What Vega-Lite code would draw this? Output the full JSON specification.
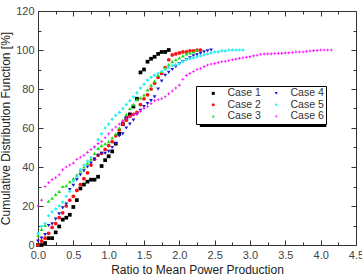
{
  "$schema": "https://vega.github.io/schema/vega-lite/v6.json",
  "autosize": {"type": "none"},
  "padding": {"left": 38, "top": 11, "right": 6, "bottom": 32},
  "width": 318,
  "height": 234,
  "background": "white",
  "config": {
    "view": {"stroke": null},
    "font": "Liberation Sans",
    "axis": {
      "domainColor": "#333333",
      "tickColor": "#333333",
      "grid": false,
      "labelFont": "Liberation Sans",
      "labelFontSize": 11,
      "labelColor": "#444444",
      "titleFont": "Liberation Sans",
      "titleFontSize": 12,
      "titleFontWeight": "normal",
      "titleColor": "#222222",
      "labelOverlap": false,
      "labelFlush": false
    }
  },
  "datasets": {
    "legendShadow": [{"x0": 2.29, "x1": 4.08, "y0": 60.5, "y1": 79.0}],
    "cdf": [
      {"s": "Case 1", "x": 0.00, "y": 0},
      {"s": "Case 1", "x": 0.05, "y": 0},
      {"s": "Case 1", "x": 0.10, "y": 1},
      {"s": "Case 1", "x": 0.15, "y": 3.5},
      {"s": "Case 1", "x": 0.20, "y": 3.5},
      {"s": "Case 1", "x": 0.25, "y": 6.5},
      {"s": "Case 1", "x": 0.30, "y": 9.5},
      {"s": "Case 1", "x": 0.35, "y": 13},
      {"s": "Case 1", "x": 0.40, "y": 14},
      {"s": "Case 1", "x": 0.45, "y": 15.5},
      {"s": "Case 1", "x": 0.50, "y": 19.5},
      {"s": "Case 1", "x": 0.55, "y": 23},
      {"s": "Case 1", "x": 0.60, "y": 29},
      {"s": "Case 1", "x": 0.65, "y": 31},
      {"s": "Case 1", "x": 0.70, "y": 32.5},
      {"s": "Case 1", "x": 0.75, "y": 33.5},
      {"s": "Case 1", "x": 0.80, "y": 33.5},
      {"s": "Case 1", "x": 0.85, "y": 35},
      {"s": "Case 1", "x": 0.90, "y": 40.5},
      {"s": "Case 1", "x": 0.95, "y": 43.5},
      {"s": "Case 1", "x": 1.00, "y": 45.5},
      {"s": "Case 1", "x": 1.05, "y": 48},
      {"s": "Case 1", "x": 1.10, "y": 52},
      {"s": "Case 1", "x": 1.15, "y": 57},
      {"s": "Case 1", "x": 1.20, "y": 62},
      {"s": "Case 1", "x": 1.25, "y": 65},
      {"s": "Case 1", "x": 1.30, "y": 67},
      {"s": "Case 1", "x": 1.35, "y": 71},
      {"s": "Case 1", "x": 1.40, "y": 75},
      {"s": "Case 1", "x": 1.45, "y": 88.5},
      {"s": "Case 1", "x": 1.50, "y": 90},
      {"s": "Case 1", "x": 1.55, "y": 94},
      {"s": "Case 1", "x": 1.60, "y": 95.5},
      {"s": "Case 1", "x": 1.65, "y": 96.5},
      {"s": "Case 1", "x": 1.70, "y": 98},
      {"s": "Case 1", "x": 1.75, "y": 99},
      {"s": "Case 1", "x": 1.80, "y": 99},
      {"s": "Case 1", "x": 1.85, "y": 100},

      {"s": "Case 2", "x": 0.00, "y": 0},
      {"s": "Case 2", "x": 0.05, "y": 2},
      {"s": "Case 2", "x": 0.10, "y": 3.5},
      {"s": "Case 2", "x": 0.15, "y": 6},
      {"s": "Case 2", "x": 0.20, "y": 9},
      {"s": "Case 2", "x": 0.25, "y": 11},
      {"s": "Case 2", "x": 0.30, "y": 14},
      {"s": "Case 2", "x": 0.35, "y": 16.5},
      {"s": "Case 2", "x": 0.40, "y": 20},
      {"s": "Case 2", "x": 0.45, "y": 23},
      {"s": "Case 2", "x": 0.50, "y": 25},
      {"s": "Case 2", "x": 0.55, "y": 28},
      {"s": "Case 2", "x": 0.60, "y": 31},
      {"s": "Case 2", "x": 0.65, "y": 34},
      {"s": "Case 2", "x": 0.70, "y": 37},
      {"s": "Case 2", "x": 0.75, "y": 41},
      {"s": "Case 2", "x": 0.80, "y": 44},
      {"s": "Case 2", "x": 0.85, "y": 46},
      {"s": "Case 2", "x": 0.90, "y": 47},
      {"s": "Case 2", "x": 0.95, "y": 49},
      {"s": "Case 2", "x": 1.00, "y": 51},
      {"s": "Case 2", "x": 1.05, "y": 53},
      {"s": "Case 2", "x": 1.10, "y": 56},
      {"s": "Case 2", "x": 1.15, "y": 59},
      {"s": "Case 2", "x": 1.20, "y": 62},
      {"s": "Case 2", "x": 1.25, "y": 64},
      {"s": "Case 2", "x": 1.30, "y": 66},
      {"s": "Case 2", "x": 1.35, "y": 67},
      {"s": "Case 2", "x": 1.40, "y": 68},
      {"s": "Case 2", "x": 1.45, "y": 72},
      {"s": "Case 2", "x": 1.50, "y": 75},
      {"s": "Case 2", "x": 1.55, "y": 77},
      {"s": "Case 2", "x": 1.60, "y": 80},
      {"s": "Case 2", "x": 1.65, "y": 83},
      {"s": "Case 2", "x": 1.70, "y": 86},
      {"s": "Case 2", "x": 1.75, "y": 88},
      {"s": "Case 2", "x": 1.80, "y": 91},
      {"s": "Case 2", "x": 1.85, "y": 95},
      {"s": "Case 2", "x": 1.90, "y": 97.5},
      {"s": "Case 2", "x": 1.95, "y": 98},
      {"s": "Case 2", "x": 2.00, "y": 98.5},
      {"s": "Case 2", "x": 2.05, "y": 99},
      {"s": "Case 2", "x": 2.10, "y": 99},
      {"s": "Case 2", "x": 2.15, "y": 99.5},
      {"s": "Case 2", "x": 2.20, "y": 99.5},
      {"s": "Case 2", "x": 2.25, "y": 100},
      {"s": "Case 2", "x": 2.30, "y": 100},

      {"s": "Case 3", "x": 0.00, "y": 5},
      {"s": "Case 3", "x": 0.05, "y": 8},
      {"s": "Case 3", "x": 0.10, "y": 10},
      {"s": "Case 3", "x": 0.15, "y": 22.5},
      {"s": "Case 3", "x": 0.20, "y": 24},
      {"s": "Case 3", "x": 0.25, "y": 26},
      {"s": "Case 3", "x": 0.30, "y": 27.5},
      {"s": "Case 3", "x": 0.35, "y": 30},
      {"s": "Case 3", "x": 0.40, "y": 30.5},
      {"s": "Case 3", "x": 0.45, "y": 32.5},
      {"s": "Case 3", "x": 0.50, "y": 34},
      {"s": "Case 3", "x": 0.55, "y": 36},
      {"s": "Case 3", "x": 0.60, "y": 38},
      {"s": "Case 3", "x": 0.65, "y": 40},
      {"s": "Case 3", "x": 0.70, "y": 42},
      {"s": "Case 3", "x": 0.75, "y": 44},
      {"s": "Case 3", "x": 0.80, "y": 47},
      {"s": "Case 3", "x": 0.85, "y": 49.5},
      {"s": "Case 3", "x": 0.90, "y": 51},
      {"s": "Case 3", "x": 0.95, "y": 52},
      {"s": "Case 3", "x": 1.00, "y": 53},
      {"s": "Case 3", "x": 1.05, "y": 55},
      {"s": "Case 3", "x": 1.10, "y": 57},
      {"s": "Case 3", "x": 1.15, "y": 60},
      {"s": "Case 3", "x": 1.20, "y": 64},
      {"s": "Case 3", "x": 1.25, "y": 67},
      {"s": "Case 3", "x": 1.30, "y": 70},
      {"s": "Case 3", "x": 1.35, "y": 72},
      {"s": "Case 3", "x": 1.40, "y": 74.5},
      {"s": "Case 3", "x": 1.45, "y": 75.5},
      {"s": "Case 3", "x": 1.50, "y": 77},
      {"s": "Case 3", "x": 1.55, "y": 79.5},
      {"s": "Case 3", "x": 1.60, "y": 82},
      {"s": "Case 3", "x": 1.65, "y": 84},
      {"s": "Case 3", "x": 1.70, "y": 87},
      {"s": "Case 3", "x": 1.75, "y": 89},
      {"s": "Case 3", "x": 1.80, "y": 91},
      {"s": "Case 3", "x": 1.85, "y": 92.5},
      {"s": "Case 3", "x": 1.90, "y": 94},
      {"s": "Case 3", "x": 1.95, "y": 95},
      {"s": "Case 3", "x": 2.00, "y": 96},
      {"s": "Case 3", "x": 2.05, "y": 97},
      {"s": "Case 3", "x": 2.10, "y": 98},
      {"s": "Case 3", "x": 2.15, "y": 98.5},
      {"s": "Case 3", "x": 2.20, "y": 99},
      {"s": "Case 3", "x": 2.25, "y": 100},

      {"s": "Case 4", "x": 0.00, "y": 2},
      {"s": "Case 4", "x": 0.05, "y": 3.5},
      {"s": "Case 4", "x": 0.10, "y": 5.3},
      {"s": "Case 4", "x": 0.15, "y": 10},
      {"s": "Case 4", "x": 0.20, "y": 10.8},
      {"s": "Case 4", "x": 0.25, "y": 13.3},
      {"s": "Case 4", "x": 0.30, "y": 16},
      {"s": "Case 4", "x": 0.35, "y": 19},
      {"s": "Case 4", "x": 0.40, "y": 21},
      {"s": "Case 4", "x": 0.45, "y": 28.4},
      {"s": "Case 4", "x": 0.50, "y": 30.6},
      {"s": "Case 4", "x": 0.55, "y": 33.5},
      {"s": "Case 4", "x": 0.60, "y": 36},
      {"s": "Case 4", "x": 0.65, "y": 38},
      {"s": "Case 4", "x": 0.70, "y": 40},
      {"s": "Case 4", "x": 0.75, "y": 42},
      {"s": "Case 4", "x": 0.80, "y": 44},
      {"s": "Case 4", "x": 0.85, "y": 46},
      {"s": "Case 4", "x": 0.90, "y": 47},
      {"s": "Case 4", "x": 0.95, "y": 47},
      {"s": "Case 4", "x": 1.00, "y": 48},
      {"s": "Case 4", "x": 1.05, "y": 50},
      {"s": "Case 4", "x": 1.10, "y": 52},
      {"s": "Case 4", "x": 1.15, "y": 56},
      {"s": "Case 4", "x": 1.20, "y": 57},
      {"s": "Case 4", "x": 1.25, "y": 60},
      {"s": "Case 4", "x": 1.30, "y": 62},
      {"s": "Case 4", "x": 1.35, "y": 64},
      {"s": "Case 4", "x": 1.40, "y": 67},
      {"s": "Case 4", "x": 1.45, "y": 69},
      {"s": "Case 4", "x": 1.50, "y": 71},
      {"s": "Case 4", "x": 1.55, "y": 72.5},
      {"s": "Case 4", "x": 1.60, "y": 74},
      {"s": "Case 4", "x": 1.65, "y": 76},
      {"s": "Case 4", "x": 1.70, "y": 80},
      {"s": "Case 4", "x": 1.75, "y": 84},
      {"s": "Case 4", "x": 1.80, "y": 87},
      {"s": "Case 4", "x": 1.85, "y": 88.5},
      {"s": "Case 4", "x": 1.90, "y": 90},
      {"s": "Case 4", "x": 1.95, "y": 91.5},
      {"s": "Case 4", "x": 2.00, "y": 93},
      {"s": "Case 4", "x": 2.05, "y": 94},
      {"s": "Case 4", "x": 2.10, "y": 95},
      {"s": "Case 4", "x": 2.15, "y": 96},
      {"s": "Case 4", "x": 2.20, "y": 97},
      {"s": "Case 4", "x": 2.25, "y": 97.5},
      {"s": "Case 4", "x": 2.30, "y": 98.3},
      {"s": "Case 4", "x": 2.35, "y": 99},
      {"s": "Case 4", "x": 2.40, "y": 99.5},
      {"s": "Case 4", "x": 2.45, "y": 100},

      {"s": "Case 5", "x": 0.00, "y": 6},
      {"s": "Case 5", "x": 0.05, "y": 9.6},
      {"s": "Case 5", "x": 0.10, "y": 11},
      {"s": "Case 5", "x": 0.15, "y": 15},
      {"s": "Case 5", "x": 0.20, "y": 17},
      {"s": "Case 5", "x": 0.25, "y": 18.5},
      {"s": "Case 5", "x": 0.30, "y": 20},
      {"s": "Case 5", "x": 0.35, "y": 22},
      {"s": "Case 5", "x": 0.40, "y": 25},
      {"s": "Case 5", "x": 0.45, "y": 27.5},
      {"s": "Case 5", "x": 0.50, "y": 32.7},
      {"s": "Case 5", "x": 0.55, "y": 35},
      {"s": "Case 5", "x": 0.60, "y": 38.6},
      {"s": "Case 5", "x": 0.65, "y": 41},
      {"s": "Case 5", "x": 0.70, "y": 43},
      {"s": "Case 5", "x": 0.75, "y": 45},
      {"s": "Case 5", "x": 0.80, "y": 50},
      {"s": "Case 5", "x": 0.85, "y": 54},
      {"s": "Case 5", "x": 0.90, "y": 57},
      {"s": "Case 5", "x": 0.95, "y": 60},
      {"s": "Case 5", "x": 1.00, "y": 62},
      {"s": "Case 5", "x": 1.05, "y": 64.5},
      {"s": "Case 5", "x": 1.10, "y": 66.5},
      {"s": "Case 5", "x": 1.15, "y": 68},
      {"s": "Case 5", "x": 1.20, "y": 70},
      {"s": "Case 5", "x": 1.25, "y": 72},
      {"s": "Case 5", "x": 1.30, "y": 74},
      {"s": "Case 5", "x": 1.35, "y": 76},
      {"s": "Case 5", "x": 1.40, "y": 78},
      {"s": "Case 5", "x": 1.45, "y": 80.5},
      {"s": "Case 5", "x": 1.50, "y": 82.5},
      {"s": "Case 5", "x": 1.55, "y": 84.5},
      {"s": "Case 5", "x": 1.60, "y": 86},
      {"s": "Case 5", "x": 1.65, "y": 87},
      {"s": "Case 5", "x": 1.70, "y": 88},
      {"s": "Case 5", "x": 1.75, "y": 89},
      {"s": "Case 5", "x": 1.80, "y": 90},
      {"s": "Case 5", "x": 1.85, "y": 91},
      {"s": "Case 5", "x": 1.90, "y": 92},
      {"s": "Case 5", "x": 1.95, "y": 92.5},
      {"s": "Case 5", "x": 2.00, "y": 93},
      {"s": "Case 5", "x": 2.05, "y": 94},
      {"s": "Case 5", "x": 2.10, "y": 95},
      {"s": "Case 5", "x": 2.15, "y": 95.5},
      {"s": "Case 5", "x": 2.20, "y": 96},
      {"s": "Case 5", "x": 2.25, "y": 96.5},
      {"s": "Case 5", "x": 2.30, "y": 97},
      {"s": "Case 5", "x": 2.35, "y": 97.5},
      {"s": "Case 5", "x": 2.40, "y": 98},
      {"s": "Case 5", "x": 2.45, "y": 98.5},
      {"s": "Case 5", "x": 2.50, "y": 99},
      {"s": "Case 5", "x": 2.55, "y": 99},
      {"s": "Case 5", "x": 2.60, "y": 99.5},
      {"s": "Case 5", "x": 2.65, "y": 99.5},
      {"s": "Case 5", "x": 2.70, "y": 100},
      {"s": "Case 5", "x": 2.75, "y": 100},
      {"s": "Case 5", "x": 2.80, "y": 100},
      {"s": "Case 5", "x": 2.85, "y": 100},
      {"s": "Case 5", "x": 2.90, "y": 100},

      {"s": "Case 6", "x": 0.00, "y": 20},
      {"s": "Case 6", "x": 0.05, "y": 23},
      {"s": "Case 6", "x": 0.10, "y": 30},
      {"s": "Case 6", "x": 0.15, "y": 32},
      {"s": "Case 6", "x": 0.20, "y": 33.5},
      {"s": "Case 6", "x": 0.25, "y": 34.5},
      {"s": "Case 6", "x": 0.30, "y": 36},
      {"s": "Case 6", "x": 0.35, "y": 38.5},
      {"s": "Case 6", "x": 0.40, "y": 40},
      {"s": "Case 6", "x": 0.45, "y": 41},
      {"s": "Case 6", "x": 0.50, "y": 42},
      {"s": "Case 6", "x": 0.55, "y": 44},
      {"s": "Case 6", "x": 0.60, "y": 45},
      {"s": "Case 6", "x": 0.65, "y": 46},
      {"s": "Case 6", "x": 0.70, "y": 47.5},
      {"s": "Case 6", "x": 0.75, "y": 49},
      {"s": "Case 6", "x": 0.80, "y": 50.5},
      {"s": "Case 6", "x": 0.85, "y": 52},
      {"s": "Case 6", "x": 0.90, "y": 53},
      {"s": "Case 6", "x": 0.95, "y": 55},
      {"s": "Case 6", "x": 1.00, "y": 57},
      {"s": "Case 6", "x": 1.05, "y": 59},
      {"s": "Case 6", "x": 1.10, "y": 60.5},
      {"s": "Case 6", "x": 1.15, "y": 62},
      {"s": "Case 6", "x": 1.20, "y": 63.5},
      {"s": "Case 6", "x": 1.25, "y": 65},
      {"s": "Case 6", "x": 1.30, "y": 66},
      {"s": "Case 6", "x": 1.35, "y": 67},
      {"s": "Case 6", "x": 1.40, "y": 67.5},
      {"s": "Case 6", "x": 1.45, "y": 68.5},
      {"s": "Case 6", "x": 1.50, "y": 70},
      {"s": "Case 6", "x": 1.55, "y": 71},
      {"s": "Case 6", "x": 1.60, "y": 72.5},
      {"s": "Case 6", "x": 1.65, "y": 74},
      {"s": "Case 6", "x": 1.70, "y": 74.5},
      {"s": "Case 6", "x": 1.75, "y": 75},
      {"s": "Case 6", "x": 1.80, "y": 76},
      {"s": "Case 6", "x": 1.85, "y": 77.5},
      {"s": "Case 6", "x": 1.90, "y": 79},
      {"s": "Case 6", "x": 1.95, "y": 80.5},
      {"s": "Case 6", "x": 2.00, "y": 82},
      {"s": "Case 6", "x": 2.05, "y": 85},
      {"s": "Case 6", "x": 2.10, "y": 87},
      {"s": "Case 6", "x": 2.15, "y": 88},
      {"s": "Case 6", "x": 2.20, "y": 89},
      {"s": "Case 6", "x": 2.25, "y": 90},
      {"s": "Case 6", "x": 2.30, "y": 90.5},
      {"s": "Case 6", "x": 2.35, "y": 91.5},
      {"s": "Case 6", "x": 2.40, "y": 92.3},
      {"s": "Case 6", "x": 2.45, "y": 92.8},
      {"s": "Case 6", "x": 2.50, "y": 93},
      {"s": "Case 6", "x": 2.55, "y": 93.5},
      {"s": "Case 6", "x": 2.60, "y": 94},
      {"s": "Case 6", "x": 2.65, "y": 94.2},
      {"s": "Case 6", "x": 2.70, "y": 94.5},
      {"s": "Case 6", "x": 2.75, "y": 95},
      {"s": "Case 6", "x": 2.80, "y": 95.3},
      {"s": "Case 6", "x": 2.85, "y": 95.7},
      {"s": "Case 6", "x": 2.90, "y": 96},
      {"s": "Case 6", "x": 2.95, "y": 96.3},
      {"s": "Case 6", "x": 3.00, "y": 96.5},
      {"s": "Case 6", "x": 3.05, "y": 97},
      {"s": "Case 6", "x": 3.10, "y": 97.3},
      {"s": "Case 6", "x": 3.15, "y": 97.8},
      {"s": "Case 6", "x": 3.20, "y": 98},
      {"s": "Case 6", "x": 3.25, "y": 98},
      {"s": "Case 6", "x": 3.30, "y": 98},
      {"s": "Case 6", "x": 3.35, "y": 98.2},
      {"s": "Case 6", "x": 3.40, "y": 98.3},
      {"s": "Case 6", "x": 3.45, "y": 98.3},
      {"s": "Case 6", "x": 3.50, "y": 98.5},
      {"s": "Case 6", "x": 3.55, "y": 98.5},
      {"s": "Case 6", "x": 3.60, "y": 98.7},
      {"s": "Case 6", "x": 3.65, "y": 99},
      {"s": "Case 6", "x": 3.70, "y": 99},
      {"s": "Case 6", "x": 3.75, "y": 99},
      {"s": "Case 6", "x": 3.80, "y": 99.3},
      {"s": "Case 6", "x": 3.85, "y": 99.5},
      {"s": "Case 6", "x": 3.90, "y": 99.7},
      {"s": "Case 6", "x": 3.95, "y": 99.8},
      {"s": "Case 6", "x": 4.00, "y": 100},
      {"s": "Case 6", "x": 4.05, "y": 100},
      {"s": "Case 6", "x": 4.10, "y": 100},
      {"s": "Case 6", "x": 4.15, "y": 100}
    ]
  },
  "resolve": {"axis": {"x": "independent", "y": "independent"}},
  "layer": [
    {
      "data": {"name": "cdf"},
      "mark": {"type": "point", "filled": true, "size": 14, "opacity": 1},
      "encoding": {
        "x": {
          "field": "x", "type": "quantitative",
          "scale": {"domain": [0, 4.5], "nice": false, "zero": false},
          "axis": {
            "orient": "bottom", "title": "Ratio to Mean Power Production",
            "values": [0, 0.25, 0.5, 0.75, 1, 1.25, 1.5, 1.75, 2, 2.25, 2.5, 2.75, 3, 3.25, 3.5, 3.75, 4, 4.25, 4.5],
            "labelExpr": "datum.value % 0.5 !== 0 ? '' : format(datum.value, '.1f')",
            "tickSize": {"condition": {"test": "datum.value % 0.5 !== 0", "value": -3}, "value": -5},
            "labelPadding": 9,
            "titlePadding": 2
          }
        },
        "y": {
          "field": "y", "type": "quantitative",
          "scale": {"domain": [0, 120], "nice": false, "zero": false},
          "axis": {
            "orient": "left", "title": "Cumulative Distribution Function [%]",
            "values": [0, 10, 20, 30, 40, 50, 60, 70, 80, 90, 100, 110, 120],
            "labelExpr": "datum.value % 20 !== 0 ? '' : format(datum.value, 'd')",
            "tickSize": {"condition": {"test": "datum.value % 20 !== 0", "value": -3}, "value": -5},
            "labelPadding": 9,
            "titlePadding": 3
          }
        },
        "color": {
          "field": "s", "type": "nominal",
          "scale": {
            "domain": ["Case 1", "Case 4", "Case 2", "Case 5", "Case 3", "Case 6"],
            "range": ["#000000", "#1a1ad0", "#ff1010", "#30f0f0", "#10e010", "#ff10ff"]
          },
          "legend": {
            "title": null,
            "orient": "none",
            "legendX": 158,
            "legendY": 75,
            "columns": 2,
            "direction": "horizontal",
            "fillColor": "white",
            "strokeColor": "#000000",
            "padding": 2,
            "columnPadding": -6,
            "rowPadding": 0.5,
            "symbolSize": 9,
            "symbolOffset": 10,
            "labelOffset": 9,
            "labelFont": "Liberation Sans",
            "labelFontSize": 10.5,
            "labelColor": "#333333",
            "symbolStrokeWidth": 0
          }
        },
        "shape": {
          "field": "s", "type": "nominal",
          "scale": {
            "domain": ["Case 1", "Case 4", "Case 2", "Case 5", "Case 3", "Case 6"],
            "range": ["square", "triangle-down", "circle", "diamond", "triangle-up", "M0,-1L0.3,-0.3L1,0L0.3,0.3L0,1L-0.3,0.3L-1,0L-0.3,-0.3Z"]
          }
        }
      }
    },
    {
      "data": {"name": "legendShadow"},
      "mark": {"type": "rect", "fill": "#000000"},
      "encoding": {
        "x": {
          "field": "x0", "type": "quantitative",
          "scale": {"domain": [0, 4.5], "nice": false, "zero": false},
          "axis": {
            "orient": "top", "title": null, "labels": false,
            "values": [0, 0.25, 0.5, 0.75, 1, 1.25, 1.5, 1.75, 2, 2.25, 2.5, 2.75, 3, 3.25, 3.5, 3.75, 4, 4.25, 4.5],
            "tickSize": {"condition": {"test": "datum.value % 0.5 !== 0", "value": -3}, "value": -5}
          }
        },
        "x2": {"field": "x1"},
        "y": {
          "field": "y0", "type": "quantitative",
          "scale": {"domain": [0, 120], "nice": false, "zero": false},
          "axis": {
            "orient": "right", "title": null, "labels": false,
            "values": [0, 10, 20, 30, 40, 50, 60, 70, 80, 90, 100, 110, 120],
            "tickSize": {"condition": {"test": "datum.value % 20 !== 0", "value": -3}, "value": -5}
          }
        },
        "y2": {"field": "y1"}
      }
    }
  ]
}
